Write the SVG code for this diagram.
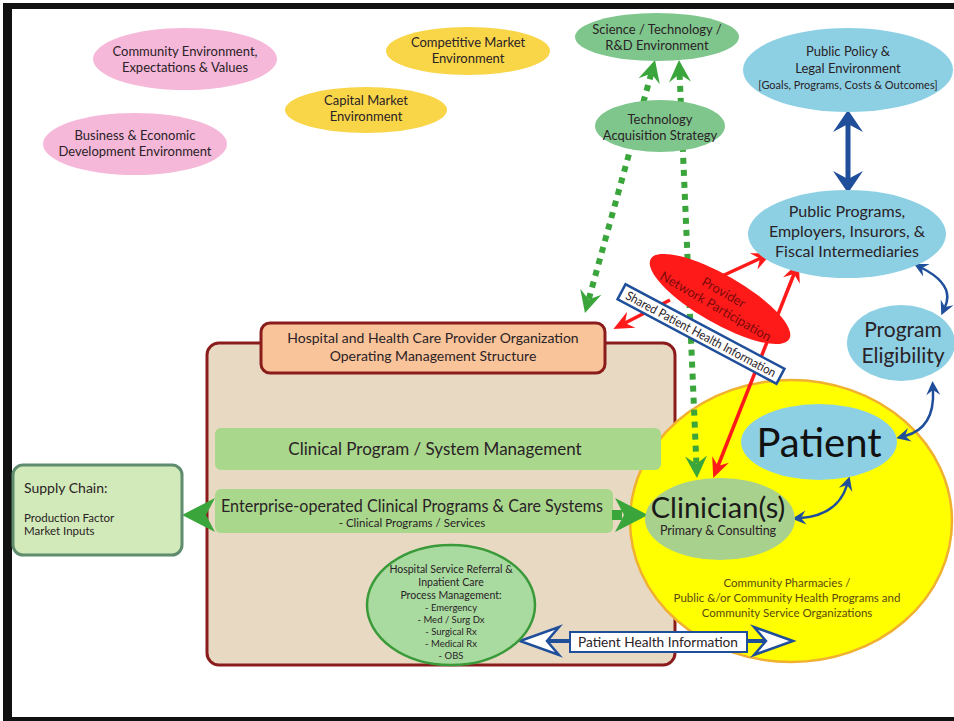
<svg xmlns="http://www.w3.org/2000/svg" width="954" height="721" viewBox="0 0 954 721">
  <style>
    text { font-family: Lato, "Open Sans", "Liberation Sans", sans-serif; fill: #2a2226; text-anchor: middle; }
    .env { font-size: 13px; }
    .pink { fill: #f6b8d9; }
    .gold { fill: #f9d548; }
    .sage { fill: #7fc68c; }
    .sky { fill: #8dd0e4; }
    .band { fill: #a9d88c; }
    .dots { fill: none; stroke: #3aa53a; stroke-width: 6; stroke-dasharray: 6 6; }
    .red { fill: none; stroke: #ff1a1a; stroke-width: 3.5; }
    .blue { fill: none; stroke: #1f4e9a; stroke-width: 2.5; }
    .open { fill: #ffffff; stroke: #1f4e9a; stroke-width: 2.5; stroke-linejoin: miter; }
  </style>
  <defs>
    <marker id="hGreen" viewBox="-24 -12 26 24" markerWidth="26" markerHeight="24" refX="-14" refY="0" orient="auto-start-reverse" markerUnits="userSpaceOnUse">
      <path d="M0,0 L-22,-11 L-14,0 L-22,11 Z" fill="#3aa53a"/>
    </marker>
    <marker id="hRed" viewBox="-22 -10 24 20" markerWidth="24" markerHeight="20" refX="-13" refY="0" orient="auto-start-reverse" markerUnits="userSpaceOnUse">
      <path d="M0,0 L-20,-9 L-13,0 L-20,9 Z" fill="#ff1a1a"/>
    </marker>
    <marker id="hBlueBig" viewBox="-24 -16 26 32" markerWidth="26" markerHeight="32" refX="-14" refY="0" orient="auto-start-reverse" markerUnits="userSpaceOnUse">
      <path d="M0,0 L-22,-15 L-14,0 L-22,15 Z" fill="#1f4e9a"/>
    </marker>
    <marker id="hBlue" viewBox="-16 -8 18 16" markerWidth="18" markerHeight="16" refX="-9" refY="0" orient="auto-start-reverse" markerUnits="userSpaceOnUse">
      <path d="M0,0 L-14,-7 L-9,0 L-14,7 Z" fill="#1f4e9a"/>
    </marker>
  </defs>

  <!-- page and frame -->
  <rect x="0" y="0" width="954" height="721" fill="#ffffff"/>
  <path d="M3,3 H954 V9 H12 V717 H954 V721 H3 Z" fill="#111111"/>

  <!-- hospital organisation container -->
  <g id="hospital-org">
    <rect x="207" y="343" width="468" height="322" rx="12" fill="#e8d9c3" stroke="#8b1c1c" stroke-width="3"/>
  </g>

  <!-- community circle -->
  <g id="community">
    <ellipse cx="791" cy="521" rx="161" ry="141" fill="#ffff00" stroke="#f0b030" stroke-width="2.5"/>
    <text x="787" y="587" style="font-size:11.5px; fill:#5a4a12">Community Pharmacies /</text>
    <text x="787" y="602" style="font-size:11.5px; fill:#5a4a12">Public &amp;/or Community Health Programs and</text>
    <text x="787" y="617" style="font-size:11.5px; fill:#5a4a12">Community Service Organizations</text>
  </g>

  <!-- bands inside the hospital container -->
  <g id="clinical-program-management">
    <rect x="215" y="428" width="446" height="42" rx="6" class="band"/>
    <text x="435" y="455" style="font-size:17px">Clinical Program / System Management</text>
  </g>
  <g id="enterprise-programs">
    <rect x="215" y="489" width="398" height="44" rx="6" class="band"/>
    <text x="412" y="512" style="font-size:16.5px" textLength="382" lengthAdjust="spacingAndGlyphs">Enterprise-operated Clinical Programs &amp; Care Systems</text>
    <text x="412" y="527" style="font-size:11.5px">- Clinical Programs / Services</text>
  </g>

  <!-- connectors -->
  <g id="connectors">
    <!-- technology strategy links -->
    <line x1="651.3" y1="73.5" x2="588.7" y2="299.5" class="dots" marker-start="url(#hGreen)" marker-end="url(#hGreen)"/>
    <line x1="679.6" y1="74" x2="696.4" y2="464" class="dots" marker-start="url(#hGreen)" marker-end="url(#hGreen)"/>
    <!-- enterprise programs to supply chain and clinicians -->
    <path d="M182,515 L215,498 L206,515 L215,532 Z" fill="#3aa53a"/>
    <rect x="612" y="510" width="10" height="10" fill="#3aa53a"/>
    <path d="M648,515 L615,498 L624,515 L615,532 Z" fill="#3aa53a"/>
    <!-- provider network participation -->
    <line x1="722" y1="276" x2="760" y2="258.5" class="red" marker-end="url(#hRed)"/>
    <line x1="670" y1="300" x2="625" y2="323" class="red" marker-end="url(#hRed)"/>
    <line x1="718" y1="466" x2="794" y2="274" class="red" marker-start="url(#hRed)" marker-end="url(#hRed)"/>
    <!-- policy and eligibility links -->
    <line x1="848" y1="124" x2="848" y2="179" stroke="#1f4e9a" stroke-width="5" marker-start="url(#hBlueBig)" marker-end="url(#hBlueBig)"/>
    <path d="M922,268 Q955,285 945,307" class="blue" marker-start="url(#hBlue)" marker-end="url(#hBlue)"/>
    <path d="M933,390 Q935,428 905,436" class="blue" marker-start="url(#hBlue)" marker-end="url(#hBlue)"/>
    <path d="M847,485 Q838,515 801,518" class="blue" marker-start="url(#hBlue)" marker-end="url(#hBlue)"/>
    <!-- patient health information exchange -->
    <line x1="545" y1="641" x2="768" y2="641" stroke="#1f4e9a" stroke-width="4"/>
    <path d="M520,641 L559,627 L547,641 L559,655 Z" class="open"/>
    <path d="M793,641 L754,627 L766,641 L754,655 Z" class="open"/>
  </g>

  <!-- environment nodes -->
  <g id="community-environment">
    <ellipse cx="185" cy="59" rx="92" ry="31" class="pink"/>
    <text x="185" y="56" class="env">Community Environment,</text>
    <text x="185" y="72" class="env">Expectations &amp; Values</text>
  </g>
  <g id="business-environment">
    <ellipse cx="135" cy="144" rx="92" ry="31" class="pink"/>
    <text x="135" y="140" class="env">Business &amp; Economic</text>
    <text x="135" y="156" class="env">Development Environment</text>
  </g>
  <g id="competitive-market">
    <ellipse cx="468" cy="51" rx="82" ry="24" class="gold"/>
    <text x="468" y="47" class="env">Competitive Market</text>
    <text x="468" y="63" class="env">Environment</text>
  </g>
  <g id="capital-market">
    <ellipse cx="366" cy="110" rx="81" ry="23" class="gold"/>
    <text x="366" y="105" class="env">Capital Market</text>
    <text x="366" y="121" class="env">Environment</text>
  </g>
  <g id="science-technology">
    <ellipse cx="657" cy="37" rx="82" ry="24" class="sage"/>
    <text x="657" y="34" class="env">Science / Technology /</text>
    <text x="657" y="50" class="env">R&amp;D Environment</text>
  </g>
  <g id="technology-acquisition">
    <ellipse cx="660" cy="126" rx="65" ry="26" class="sage"/>
    <text x="660" y="124" class="env">Technology</text>
    <text x="660" y="140" class="env">Acquisition Strategy</text>
  </g>
  <g id="public-policy">
    <ellipse cx="848" cy="70" rx="105" ry="42" class="sky"/>
    <text x="848" y="56" class="env">Public Policy &amp;</text>
    <text x="848" y="73" class="env">Legal Environment</text>
    <text x="848" y="89" style="font-size:11px">[Goals, Programs, Costs &amp; Outcomes]</text>
  </g>
  <g id="public-programs">
    <ellipse cx="847" cy="234" rx="99" ry="44" class="sky"/>
    <text x="847" y="217" style="font-size:16px">Public Programs,</text>
    <text x="847" y="237" style="font-size:16px">Employers, Insurors, &amp;</text>
    <text x="847" y="257" style="font-size:16px">Fiscal Intermediaries</text>
  </g>
  <g id="program-eligibility">
    <ellipse cx="901" cy="343" rx="54" ry="38" class="sky"/>
    <text x="903" y="337" style="font-size:21px">Program</text>
    <text x="903" y="363" style="font-size:21px">Eligibility</text>
  </g>

  <!-- provider network participation -->
  <g id="provider-network" transform="translate(720,299) rotate(30)">
    <ellipse cx="0" cy="0" rx="80" ry="24" fill="#ff1a1a"/>
    <text x="0" y="-3" style="font-size:13px; fill:#7a0a0a">Provider</text>
    <text x="0" y="13" style="font-size:13px; fill:#7a0a0a">Network Participation</text>
  </g>
  <g id="shared-information" transform="translate(701,334) rotate(28)">
    <rect x="-90" y="-8.5" width="180" height="17" fill="#ffffff" stroke="#1f4e9a" stroke-width="2.5"/>
    <text x="0" y="4.5" style="font-size:12.5px" textLength="168" lengthAdjust="spacingAndGlyphs">Shared Patient Health Information</text>
  </g>

  <!-- hospital header -->
  <g id="hospital-header">
    <rect x="261" y="323" width="344" height="50" rx="9" fill="#f9c49a" stroke="#8b1c1c" stroke-width="3"/>
    <text x="433" y="343" style="font-size:14px">Hospital and Health Care Provider Organization</text>
    <text x="433" y="361" style="font-size:14px">Operating Management Structure</text>
  </g>

  <!-- supply chain -->
  <g id="supply-chain">
    <rect x="13" y="465" width="169" height="90" rx="10" fill="#d2eab9" stroke="#5f8c6e" stroke-width="3"/>
    <text x="24" y="493" style="font-size:14px; text-anchor:start">Supply Chain:</text>
    <text x="24" y="522" style="font-size:11.5px; text-anchor:start">Production Factor</text>
    <text x="24" y="535" style="font-size:11.5px; text-anchor:start">Market Inputs</text>
  </g>

  <!-- inpatient process management -->
  <g id="hospital-service">
    <ellipse cx="451" cy="605" rx="84" ry="60" fill="#a9dba0" stroke="#3a9a3a" stroke-width="2.5"/>
    <text x="451" y="573" style="font-size:10.5px">Hospital Service Referral &amp;</text>
    <text x="451" y="586" style="font-size:10.5px">Inpatient Care</text>
    <text x="451" y="599" style="font-size:10.5px">Process Management:</text>
    <text x="451" y="611" style="font-size:9.5px">- Emergency</text>
    <text x="451" y="623" style="font-size:9.5px">- Med / Surg Dx</text>
    <text x="451" y="635" style="font-size:9.5px">- Surgical Rx</text>
    <text x="451" y="647" style="font-size:9.5px">- Medical Rx</text>
    <text x="451" y="659" style="font-size:9.5px">- OBS</text>
  </g>

  <!-- patient and clinicians -->
  <g id="patient">
    <ellipse cx="819" cy="442" rx="78" ry="38" class="sky"/>
    <text x="819" y="457" style="font-size:40px; fill:#111111">Patient</text>
  </g>
  <g id="clinicians">
    <ellipse cx="720" cy="519" rx="75" ry="41" fill="#a9d18e"/>
    <text x="718" y="518" style="font-size:29px; fill:#1a1a1a">Clinician(s)</text>
    <text x="718" y="535" style="font-size:12.5px">Primary &amp; Consulting</text>
  </g>

  <!-- patient health information label -->
  <g id="patient-health-information">
    <rect x="570" y="632" width="177" height="20" fill="#ffffff" stroke="#1f4e9a" stroke-width="2"/>
    <text x="658" y="647" style="font-size:14px" textLength="160" lengthAdjust="spacingAndGlyphs">Patient Health Information</text>
  </g>
</svg>
